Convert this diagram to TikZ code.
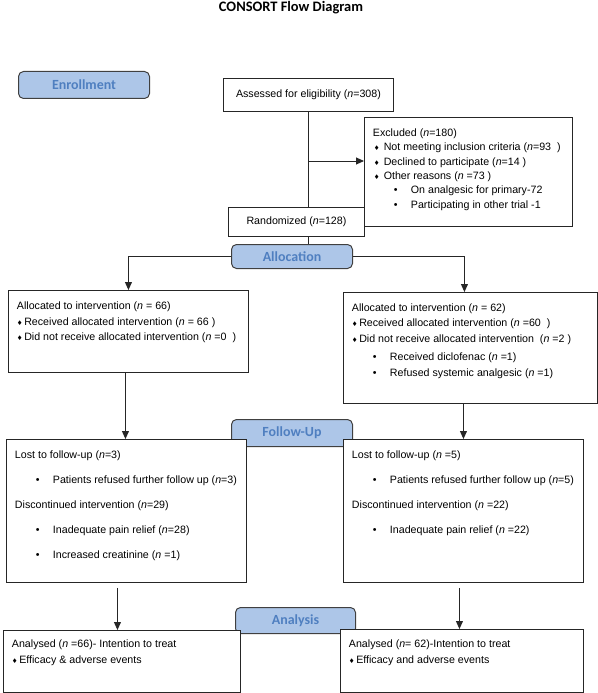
\documentclass[tikz,border=0pt]{standalone}
\usepackage{fontspec}
\setmainfont{Liberation Sans}
\newfontfamily\stagefont{Carlito}
\newfontfamily\dejavu{DejaVu Sans}
\usetikzlibrary{arrows.meta,calc}

\definecolor{stagefill}{HTML}{ADC6E8}
\definecolor{stagetext}{HTML}{4F7FC0}
\definecolor{stageline}{HTML}{404040}

% text block of a box: width, height, first baseline, lines
\newcommand{\boxtext}[4]{\parbox[c][#2][t]{#1}{\raggedright\rule{0pt}{#3}#4}}
\newcommand{\dpoint}{{\dejavu\fontsize{6.5}{6.5}\selectfont ♦}}
\newcommand{\subpoint}[1]{\hspace*{21bp}\makebox[17bp][l]{•}#1}

\tikzset{
  stage/.style={draw=stageline, line width=1bp, fill=stagefill, rounded corners=5bp,
    text=stagetext, font=\stagefont\bfseries\fontsize{14}{16}\selectfont,
    inner sep=0pt, anchor=north west},
  flowbox/.style={draw=black!85, line width=0.9bp, fill=white, anchor=north west,
    inner xsep=8.5bp, inner ysep=0pt, align=left, font=\fontsize{10.7}{14.4}\selectfont},
  flowline/.style={line width=0.9bp, draw=black!85},
  flowarrow/.style={flowline, -{Triangle[length=8bp,width=7bp]}},
}

\begin{document}
\begin{tikzpicture}[x=1bp,y=-1bp]
\useasboundingbox (0,0) rectangle (598,693);

\node[anchor=base, font=\stagefont\bfseries\fontsize{14.5}{16}\selectfont] (title) at (291,12) {CONSORT Flow Diagram};

% stage labels
\node[stage, minimum width=131bp, minimum height=27bp] (enrol) at (18,71) {Enrollment};
\node[stage, minimum width=121bp, minimum height=24bp] (alloc) at (231,244) {Allocation};
\node[stage, minimum width=121bp, minimum height=27bp] (follow) at (231,419) {Follow-Up};
\node[stage, minimum width=120bp, minimum height=26bp] (analysis) at (235,607) {Analysis};

% enrollment
\node[flowbox, inner xsep=0pt, minimum width=170bp, minimum height=33bp, align=center] (assess) at (223,78)
  {Assessed for eligibility (\textit{n}=308)};
\node[flowbox] (excl) at (364,117) {\boxtext{191bp}{109bp}{19bp}{%
  Excluded (\textit{n}=180)\\
  \hspace*{1bp}\dpoint\hspace{4bp}Not meeting inclusion criteria (\textit{n}=93\ \ )\\
  \hspace*{1bp}\dpoint\hspace{4bp}Declined to participate (\textit{n}=14 )\\
  \hspace*{1bp}\dpoint\hspace{4bp}Other reasons (\textit{n} =73 )\\
  \subpoint{On analgesic for primary-72}\\
  \subpoint{Participating in other trial -1}}};
\node[flowbox, inner xsep=0pt, minimum width=136bp, minimum height=29bp, align=center] (rand) at (228,207)
  {Randomized (\textit{n}=128)};

% allocation
\node[flowbox] (allocL) at (8,290) {\boxtext{223bp}{82bp}{19.5bp}{%
  Allocated to intervention (\textit{n} = 66)\\[1.1bp]
  \dpoint\hspace{1.5bp}Received allocated intervention (\textit{n} = 66 )\\[1.1bp]
  \dpoint\hspace{1.5bp}Did not receive allocated intervention (\textit{n} =0\ \ )}};
\node[flowbox] (allocR) at (343,292) {\boxtext{237bp}{111bp}{19bp}{%
  Allocated to intervention (\textit{n} = 62)\\[0.8bp]
  \dpoint\hspace{1.5bp}Received allocated intervention (\textit{n} =60\ \ )\\[1.3bp]
  \dpoint\hspace{1.5bp}Did not receive allocated intervention\ \ (\textit{n} =2\ )\\[3.8bp]
  \subpoint{Received diclofenac (\textit{n} =1)}\\[1.8bp]
  \subpoint{Refused systemic analgesic (\textit{n} =1)}}};

% follow-up
\node[flowbox] (folL) at (6,439) {\boxtext{223bp}{143bp}{19bp}{%
  Lost to follow-up (\textit{n}=3)\\[10.6bp]
  \subpoint{Patients refused further follow up (\textit{n}=3)}\\[10.6bp]
  Discontinued intervention (\textit{n}=29)\\[10.6bp]
  \subpoint{Inadequate pain relief (\textit{n}=28)}\\[10.6bp]
  \subpoint{Increased creatinine (\textit{n} =1)}}};
\node[flowbox] (folR) at (343,439) {\boxtext{223bp}{143bp}{19bp}{%
  Lost to follow-up (\textit{n} =5)\\[10.6bp]
  \subpoint{Patients refused further follow up (\textit{n}=5)}\\[10.6bp]
  Discontinued intervention (\textit{n} =22)\\[10.6bp]
  \subpoint{Inadequate pain relief (\textit{n} =22)}}};

% analysis
\node[flowbox] (anaL) at (3,630) {\boxtext{220bp}{62bp}{17bp}{%
  Analysed (\textit{n} =66)- Intention to treat\\[1.6bp]
  \dpoint\hspace{1.5bp}Efficacy \& adverse events}};
\node[flowbox] (anaR) at (340,629) {\boxtext{226bp}{63bp}{18bp}{%
  Analysed (\textit{n}= 62)-Intention to treat\\[1.6bp]
  \dpoint\hspace{1.5bp}Efficacy and adverse events}};

% connectors
\coordinate (branch) at (308,161);
\coordinate (allocL out) at ($(allocL.south)+(-3,0)$);
\coordinate (allocR in) at ($(allocR.north)+(-6,0)$);
\coordinate (anaL in) at ($(anaL.north)+(-4.5,0)$);
\coordinate (anaR in) at ($(anaR.north)+(-2.5,0)$);
\draw[flowline] (assess.south) -- (assess.south |- rand.north);
\draw[flowarrow] (branch) -- (branch -| excl.west);
\draw[flowline] (assess.south |- rand.south) -- (assess.south |- alloc.north);
\draw[flowarrow] (alloc.west) -| (allocL.north);
\draw[flowarrow] (alloc.east) -| (allocR in);
\draw[flowarrow] (allocL out) -- (allocL out |- folL.north);
\draw[flowarrow] (folR.north |- allocR.south) -- (folR.north);
\draw[flowarrow] (anaL in |- folL.south) ++(0,5) -- (anaL in);
\draw[flowarrow] (anaR in |- folR.south) ++(0,5) -- (anaR in);
\end{tikzpicture}
\end{document}
